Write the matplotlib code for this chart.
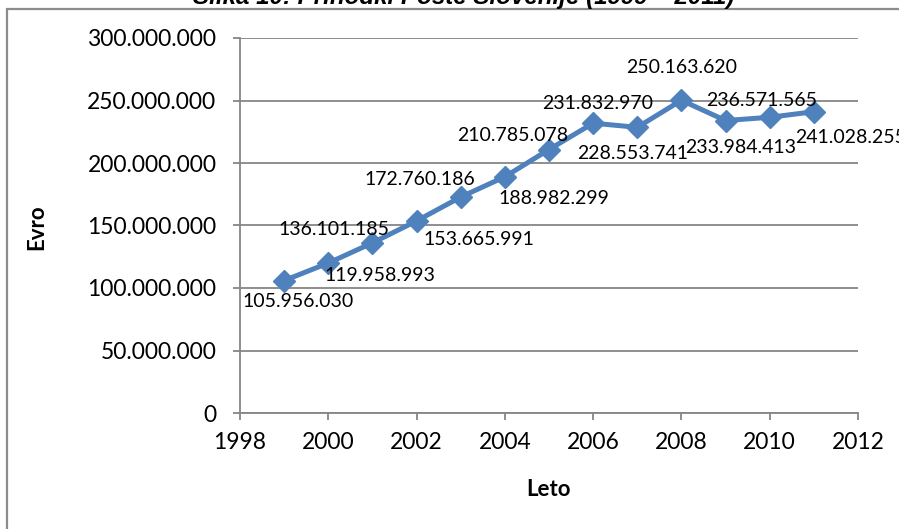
import matplotlib
matplotlib.use("Agg")
import matplotlib.pyplot as plt
from matplotlib.patches import Rectangle
from matplotlib.ticker import FuncFormatter, MultipleLocator

# Prihodki Pošte Slovenije po letih
years = [1999, 2000, 2001, 2002, 2003, 2004, 2005, 2006, 2007, 2008, 2009, 2010, 2011]
revenue = [105956030, 119958993, 136101185, 153665991, 172760186, 188982299,
           210785078, 231832970, 228553741, 250163620, 233984413, 236571565, 241028255]

# label placement (pixel offsets from each point)
label_offsets = [(14, -21), (52, -12), (-38, 13), (62, -19), (-41, 18), (49, -22),
                 (-36, 14), (4, 20), (-5, -26), (0, 33), (15, -27), (-8, 17), (37, -26)]

FONT = "Lato"
LINE_COLOR = "#4F81BD"
GRID_COLOR = "#868686"


def dotted_thousands(v, pos=None):
    return f"{int(round(v)):,}".replace(",", ".")


fig = plt.figure(figsize=(8.99, 5.29), dpi=100)
W, H = 899, 529

# outer chart frame (runs off the right and bottom edge)
fig.patches.append(Rectangle((7 / W, -0.1), 1.2, 1 - 9 / H + 0.1, transform=fig.transFigure,
                             fill=False, edgecolor="#8c8c8c", linewidth=1.6))

# caption sitting just above the frame
fig.text(464 / W, 1 - 4 / H, "Slika 10: Prihodki Pošte Slovenije (1999 – 2011)",
         ha="center", va="baseline", fontsize=17.4, fontweight="bold", fontstyle="italic",
         family="Liberation Sans")

ax = fig.add_axes([240 / W, 1 - 413 / H, (858 - 240) / W, (413 - 38) / H])
ax.plot(years, revenue, color=LINE_COLOR, linewidth=3.6, marker="D", markersize=11,
        markerfacecolor=LINE_COLOR, markeredgecolor=LINE_COLOR, zorder=3, clip_on=False)

for x, v, (dx, dy) in zip(years, revenue, label_offsets):
    ax.annotate(dotted_thousands(v), (x, v), xytext=(dx, dy), textcoords="offset pixels",
                ha="center", va="center", fontsize=14, family=FONT, color="black",
                annotation_clip=False)

ax.set_xlim(1998, 2012)
ax.set_ylim(0, 300000000)
ax.xaxis.set_major_locator(MultipleLocator(2))
ax.yaxis.set_major_locator(MultipleLocator(50000000))
ax.yaxis.set_major_formatter(FuncFormatter(dotted_thousands))

ax.grid(axis="y", color=GRID_COLOR, linewidth=1.3)
ax.set_axisbelow(True)
for side in ("top", "right"):
    ax.spines[side].set_visible(False)
for side in ("left", "bottom"):
    ax.spines[side].set_color(GRID_COLOR)
    ax.spines[side].set_linewidth(1.3)

ax.tick_params(axis="both", colors=GRID_COLOR, length=5, width=1.3, labelcolor="black")
ax.tick_params(axis="y", pad=12)
ax.tick_params(axis="x", pad=9)
for lab in ax.get_xticklabels() + ax.get_yticklabels():
    lab.set_fontsize(16.5)
    lab.set_family(FONT)

fig.text(37 / W, 1 - 227 / H, "Evro", rotation=90, ha="center", va="center",
         fontsize=16, fontweight="bold", family=FONT)
fig.text(549 / W, 1 - 490 / H, "Leto", ha="center", va="center",
         fontsize=16, fontweight="bold", family=FONT)

fig.savefig("out.png", dpi=100)
